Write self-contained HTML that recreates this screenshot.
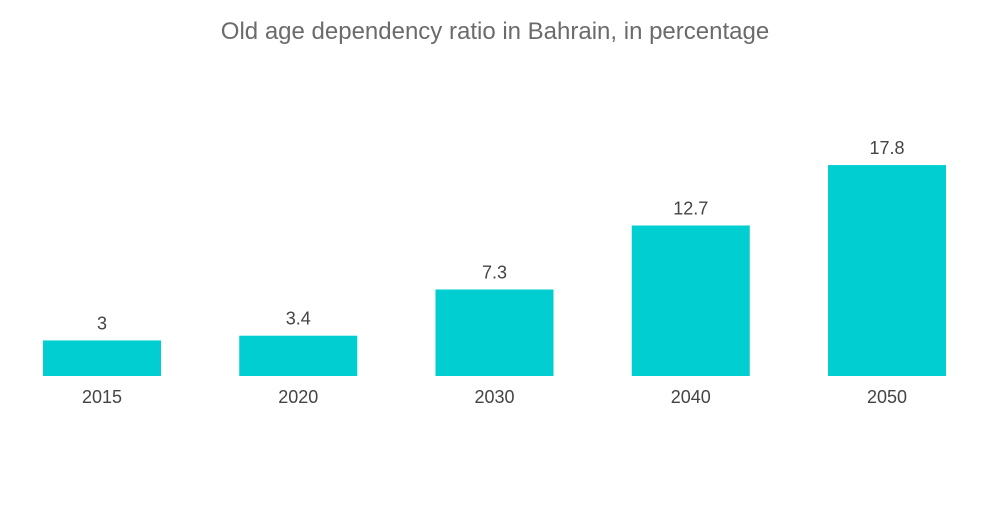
<!DOCTYPE html>
<html><head><meta charset="utf-8"><style>
body{margin:0;background:#fff;}
svg text{font-family:"Liberation Sans",sans-serif;}
</style></head><body>
<svg width="1000" height="504">
<text x="495" y="39" text-anchor="middle" font-size="24" fill="#6b6b6b">Old age dependency ratio in Bahrain, in percentage</text>
<g id="bars"></g>
</svg>
<script>
const categories=["2015","2020","2030","2040","2050"];
const values=[3,3.4,7.3,12.7,17.8];
const valueLabels=["3","3.4","7.3","12.7","17.8"];
const baseY=376, pxPerUnit=11.85, x0=43, pitch=196.25, bw=118;
const yScale=v=>baseY-v*pxPerUnit;
const xScale=i=>x0+i*pitch;
const g=document.getElementById('bars');
const ns='http://www.w3.org/2000/svg';
categories.forEach((c,i)=>{
  const r=document.createElementNS(ns,'rect');
  
  
  r.setAttribute('x',xScale(i));r.setAttribute('y',yScale(values[i]));
  r.setAttribute('width',bw);r.setAttribute('height',baseY-yScale(values[i]));
  r.setAttribute('fill','#00ced1');g.appendChild(r);
  const t=document.createElementNS(ns,'text');
  
  
  t.setAttribute('x',xScale(i)+bw/2);t.setAttribute('y',yScale(values[i])-11);
  t.setAttribute('text-anchor','middle');t.setAttribute('font-size','18');t.setAttribute('fill','#444');
  t.textContent=valueLabels[i];g.appendChild(t);
  const a=document.createElementNS(ns,'text');
  
  
  a.setAttribute('x',xScale(i)+bw/2);a.setAttribute('y',403);
  a.setAttribute('text-anchor','middle');a.setAttribute('font-size','18');a.setAttribute('fill','#444');
  a.textContent=c;g.appendChild(a);
});
</script>
</body></html>
